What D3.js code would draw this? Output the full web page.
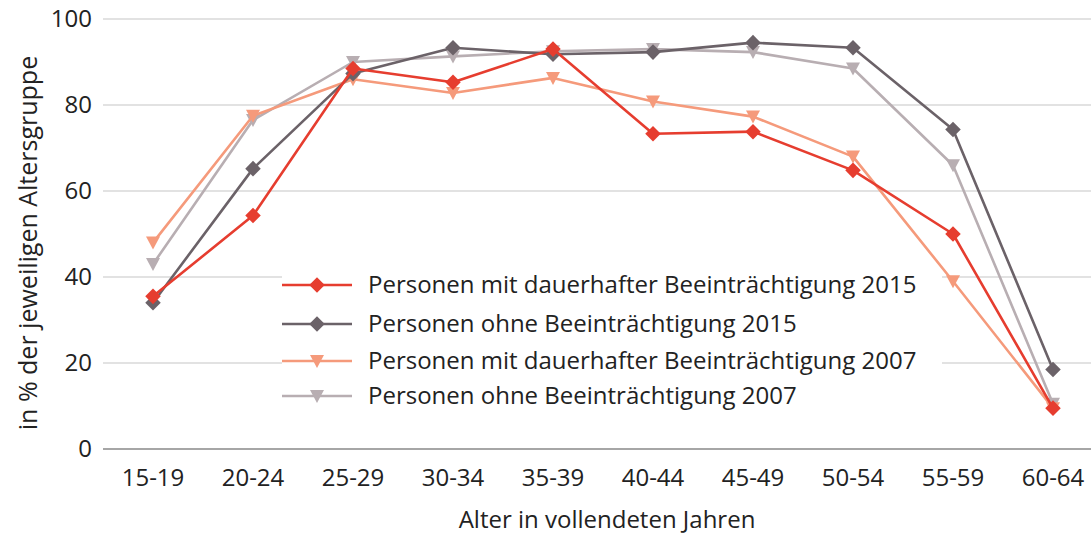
<!DOCTYPE html>
<html><head><meta charset="utf-8">
<script src="https://cdn.jsdelivr.net/npm/d3@7"></script>
<style>body{margin:0;background:#fff}svg{display:block;font-family:"Open Sans",sans-serif}</style>
</head><body><svg id="c" width="1091" height="535"></svg>
<script>
const categories = ["15-19","20-24","25-29","30-34","35-39","40-44","45-49","50-54","55-59","60-64"];
const mit2015 = [35.5,54.3,88.5,85.3,93.0,73.3,73.8,64.8,50.0,9.5];
const ohne2015 = [34.0,65.2,87.3,93.3,91.8,92.3,94.5,93.3,74.3,18.5];
const mit2007 = [48.0,77.5,86.0,82.8,86.3,80.8,77.3,68.0,39.0,9.5];
const ohne2007 = [43.0,76.5,90.0,91.3,92.5,93.0,92.3,88.5,66.0,10.5];
const yTicks = [0,20,40,60,80,100];
const seriesNames = ["Personen mit dauerhafter Beeinträchtigung 2015","Personen ohne Beeinträchtigung 2015","Personen mit dauerhafter Beeinträchtigung 2007","Personen ohne Beeinträchtigung 2007"];

const series = [
  {name: seriesNames[0], values: mit2015, color:"#e63d2f", marker:"diamond"},
  {name: seriesNames[1], values: ohne2015, color:"#6b6268", marker:"diamond"},
  {name: seriesNames[2], values: mit2007, color:"#f59a7b", marker:"tri"},
  {name: seriesNames[3], values: ohne2007, color:"#b8aeb2", marker:"tri"}
];

const svg = d3.select("#c");
const x = d3.scaleBand().domain(categories).range([103,1103]);
const cx = c => x(c) + x.bandwidth()/2;
const y = d3.scaleLinear().domain([0,100]).range([449,19]);

svg.append("g").selectAll("line").data(yTicks.filter(t=>t>0)).join("line")
  .attr("x1",103).attr("x2",1091).attr("y1",d=>y(d)).attr("y2",d=>y(d))
  .attr("stroke","#d9d9d9").attr("stroke-width",1.3);
svg.append("line").attr("x1",103).attr("x2",1091).attr("y1",y(0)).attr("y2",y(0))
  .attr("stroke","#a6a6a6").attr("stroke-width",2);

svg.append("g").selectAll("text").data(yTicks).join("text")
  .attr("x",92).attr("y",d=>y(d)).attr("dy","0.35em").attr("text-anchor","end")
  .attr("font-size",24).attr("fill","#222").text(d=>d);
svg.append("g").selectAll("text").data(categories).join("text")
  .attr("x",d=>cx(d)).attr("y",478).attr("dy","0.35em").attr("text-anchor","middle")
  .attr("font-size",24).attr("fill","#222").text(d=>d);

svg.append("text").attr("x",607).attr("y",520).attr("dy","0.35em").attr("text-anchor","middle")
  .attr("font-size",24).attr("fill","#222").text("Alter in vollendeten Jahren");
svg.append("text").attr("transform","translate(28,243) rotate(-90)").attr("dy","0.35em")
  .attr("text-anchor","middle").attr("font-size",25).attr("fill","#222").text("in % der jeweiligen Altersgruppe");

const lg = svg.append("g");
lg.append("rect").attr("x",282).attr("y",266).attr("width",660).attr("height",150).attr("fill","#fff");

function drawMarker(g, m, color, px, py){
  if(m==="diamond"){
    g.append("rect").attr("x",px-5.5).attr("y",py-5.5).attr("width",11).attr("height",11)
      .attr("transform",`rotate(45,${px},${py})`).attr("fill",color);
  } else {
    g.append("path").attr("d",`M${px-7},${py-6}L${px+7},${py-6}L${px},${py+7}Z`).attr("fill",color);
  }
}

const order = [3,2,1,0];
order.forEach(i=>{
  const s = series[i];
  const line = d3.line().x((d,j)=>cx(categories[j])).y(d=>y(d));
  const g = svg.append("g");
  g.append("path").attr("d",line(s.values)).attr("fill","none").attr("stroke",s.color)
    .attr("stroke-width",2.6).attr("stroke-linejoin","round");
  s.values.forEach((v,j)=>drawMarker(g,s.marker,s.color,cx(categories[j]),y(v)));
});

const rowY = [285,324,361,396];
series.forEach((s,i)=>{
  const g = lg.append("g");
  g.append("line").attr("x1",282).attr("x2",352).attr("y1",rowY[i]).attr("y2",rowY[i])
    .attr("stroke",s.color).attr("stroke-width",2.6);
  drawMarker(g,s.marker,s.color,317,rowY[i]);
  g.append("text").attr("x",368).attr("y",rowY[i]).attr("dy","0.35em").attr("font-size",24)
    .attr("fill","#222").text(s.name);
});
</script></body></html>
